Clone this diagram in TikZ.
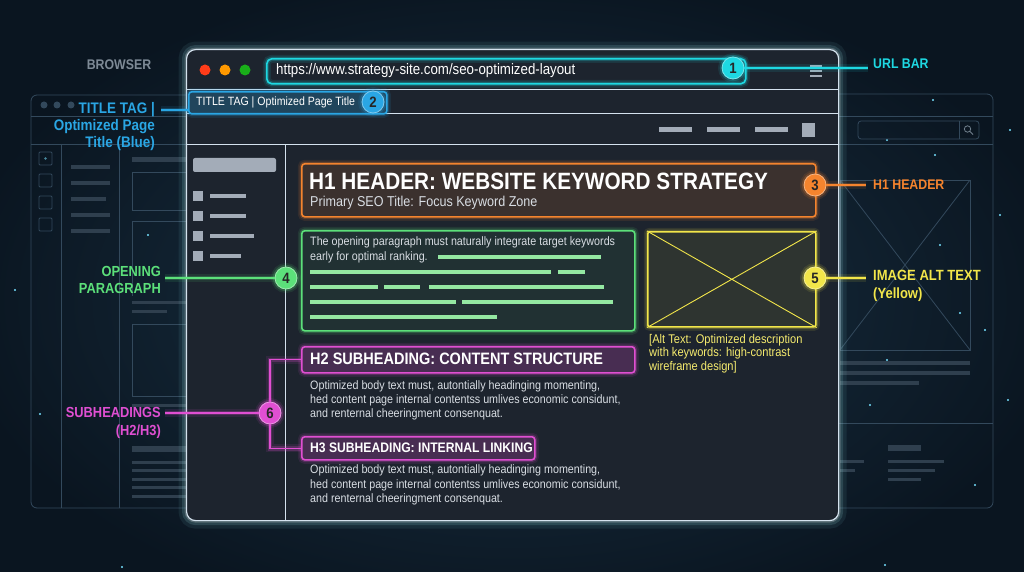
\documentclass[tikz,border=0pt]{standalone}
\usepackage{fontspec}
\setmainfont{Liberation Sans}[FakeStretch=0.88]
\usetikzlibrary{calc}
\definecolor{bgdark}{HTML}{0A1520}
\definecolor{bglight}{HTML}{1A3346}
\definecolor{winfill}{HTML}{1D242E}
\definecolor{winborder}{HTML}{D4E2EE}
\definecolor{ghost}{HTML}{33495C}
\definecolor{ghostbar}{HTML}{2F3F4E}
\definecolor{cyanc}{HTML}{1ED8E2}
\definecolor{bluec}{HTML}{2AA6E4}
\definecolor{orangec}{HTML}{F5842E}
\definecolor{greenc}{HTML}{5CE07A}
\definecolor{greenbar}{HTML}{94E8A2}
\definecolor{yellowc}{HTML}{F2E64A}
\definecolor{magc}{HTML}{E04FD2}
\definecolor{graybar}{HTML}{A3ACB8}
\definecolor{bodytext}{HTML}{D8DDE3}
\definecolor{labelgray}{HTML}{7E8A96}
\definecolor{star}{HTML}{6FD4F0}
\newcommand\fs[1]{\fontsize{#1}{#1}\selectfont}
\tikzset{
  glow/.style={preaction={draw=#1,draw opacity=.10,line width=8pt},
               preaction={draw=#1,draw opacity=.22,line width=4.5pt}},
  hbox/.style={draw=#1,line width=1.6pt,rounded corners=3pt,glow=#1,anchor=north west,inner sep=0pt},
  numc/.style={circle,fill=#1,draw=#1!60!white,line width=.8pt,minimum size=22pt,inner sep=0pt,
               font=\bfseries\fs{15},text=black!85,glow=#1},
  conn/.style={draw=#1,line width=1.3pt,glow=#1},
  lbl/.style={text=#1,font=\bfseries\fs{14},inner sep=0pt},
  sep/.style={draw=winborder,line width=1pt},
  gline/.style={draw=ghost,line width=.8pt},
  gbar/.style={line width=4pt,draw=ghostbar},
  hl/.style={line width=4pt,draw=greenbar},
  nbar/.style={line width=5pt,draw=graybar},
  body/.style={text=bodytext,font=\fs{12.2},anchor=west,inner sep=0pt},
  stardot/.style={fill=star,circle,inner sep=0pt,minimum size=2.2pt,
                  preaction={fill=star,fill opacity=.25,draw=none,circle,minimum size=6pt}},
}
\begin{document}
\begin{tikzpicture}[x=1pt,y=-1pt]
\useasboundingbox (0,0) rectangle (1024,572);
% background
\fill[bgdark] (0,0) rectangle (1024,572);
\shade[inner color=bglight,outer color=bgdark] (512,300) ellipse (560 and 330);
% stars
\foreach \p in {(40,414),(122,567),(1000,215),(1008,400),(933,100),(887,140),(935,155),(985,330),(960,313),(887,360),(975,485),(885,565),(870,405),(1010,130),(15,290),(148,235),(940,245)}
  \node[stardot] at \p {};
% ---------- left ghost browser
\draw[gline,rounded corners=6pt] (186,95) -- (31,95) -- (31,508) -- (186,508);
\foreach \x in {44,57,71} \fill[ghost] (\x,105) circle (3.5pt);
\draw[gline] (31,116) -- (186,116);
\draw[gline] (31,144) -- (186,144);
\draw[gline] (61,144) -- (61,508);
\draw[gline] (119,144) -- (119,508);
\foreach \y in {152,174,196,218} \draw[gline,rounded corners=1pt] (39,\y) rectangle (52,\y+13);
\fill[star,opacity=.6] (45.5,158.5) circle (1.3pt);
\foreach \y/\w in {167/110,183/110,199/106,215/110,231/110} \draw[gbar] (71,\y) -- (\w,\y);
\draw[gbar,line width=5pt] (132,160) -- (186,160);
\draw[gline] (186,172) -- (132,172) -- (132,210) -- (186,210);
\draw[gline] (186,221) -- (132,221) -- (132,296);
\draw[gbar,line width=3pt] (132,302) -- (186,302);
\draw[gbar,line width=3pt] (132,311) -- (167,311);
\draw[gline] (186,324) -- (132,324) -- (132,396) -- (186,396);
\draw[gbar,line width=3pt] (132,405) -- (186,405);
\draw[gbar,line width=6pt] (132,449) -- (186,449);
\foreach \y in {462,470,479,487,496} \draw[gbar,line width=3pt] (132,\y) -- (186,\y);
\node[text=labelgray,font=\bfseries\fs{14},inner sep=0pt] (browser) at (119,65) {BROWSER};
% ---------- right ghost browser
\draw[gline,rounded corners=6pt] (830,94) -- (993,94) -- (993,508) -- (830,508);
\draw[gline] (838,116) -- (993,116);
\draw[gline] (838,144) -- (993,144);
\draw[gline,rounded corners=3pt] (858,121) rectangle (979,139);
\draw[gline] (959,121) -- (959,139);
\draw[ghost!70!white,line width=.8pt] (967.5,129) circle (3.2pt) (969.8,131.3) -- (973,134.5);
\draw[gline] (840,180) rectangle (970,350);
\draw[gline] (840,180) -- (970,350) (970,180) -- (840,350);
\draw[gbar,line width=4pt] (840,363) -- (970,363);
\draw[gbar,line width=4pt] (840,373) -- (970,373);
\draw[gbar,line width=4pt] (840,383) -- (919,383);
\draw[gline] (838,423) -- (993,423);
\draw[gbar,line width=6pt] (888,448) -- (921,448);
\foreach \y/\w in {461/944,470/935,479/921} \draw[gbar,line width=3pt] (888,\y) -- (\w,\y);
\draw[gbar,line width=3pt] (840,461) -- (864,461);
\draw[gbar,line width=3pt] (840,470) -- (855,470);
% ---------- main window
\node[draw=winborder,fill=winfill,line width=1.2pt,rounded corners=9pt,anchor=north west,
      minimum width=652pt,minimum height=471pt,inner sep=0pt,
      preaction={draw=cyanc!50!white,draw opacity=.08,line width=16pt,rounded corners=9pt},
      preaction={draw=cyanc!40!white,draw opacity=.14,line width=9pt,rounded corners=9pt},
      preaction={draw=white,draw opacity=.20,line width=4pt,rounded corners=9pt}] (win) at (186,49) {};
\fill[red!70!orange!90!white] (205,70) circle (5.5pt);
\fill[orange!80!yellow] (225,70) circle (5.5pt);
\fill[green!65!black!90!white] (245,70) circle (5.5pt);
\draw[sep] (186,90) -- (838,90);
\draw[sep] (186,114) -- (838,114);
\draw[sep] (186,145) -- (838,145);
\draw[sep] (285,145) -- (285,520);
% hamburger
\foreach \y in {66,71,76} \draw[graybar,line width=1.2pt] (810,\y) -- (822,\y);
% nav bar
\draw[nbar] (659,130) -- (692,130);
\draw[nbar] (707,130) -- (740,130);
\draw[nbar] (755,130) -- (788,130);
\fill[graybar] (802,123) rectangle (815,137);
% sidebar
\fill[graybar,rounded corners=2pt] (193,158) rectangle (276,172);
\foreach \y/\w in {196/246,216/246,236/254,256/241}{
  \fill[graybar] (193,\y-5) rectangle (203,\y+5);
  \draw[graybar,line width=4pt] (210,\y) -- (\w,\y);}
% ---------- URL bar
\node[hbox=cyanc,minimum width=479pt,minimum height=25pt,rounded corners=5pt] (url) at (266,58) {};
\node[text=white,font=\fs{15.1},anchor=west,inner sep=0pt] (urltext) at (276,70.5) {https://www.strategy-site.com/seo-optimized-layout};
\node[numc=cyanc] (n1) at (733,68) {1};
\node[lbl=cyanc,anchor=west] (lurl) at (873,64) {URL BAR};
\coordinate (lurlend) at (868,68);
\draw[conn=cyanc] (n1.east) -- (lurlend);
% ---------- Title tab
\node[hbox=bluec,fill=bluec!25!winfill,minimum width=198pt,minimum height=22pt] (tab) at (188,91) {};
\node[text=white,font=\fs{12},anchor=west,inner sep=0pt] (tabtext) at (196,102) {TITLE TAG | Optimized Page Title};
\node[numc=bluec] (n2) at (373,102) {2};
\node[lbl=bluec,align=right,anchor=north east,font=\bfseries\fs{15.3}] (ltab) at (155,102) {TITLE TAG |\\[2pt]Optimized Page\\[2pt]Title (Blue)};
\coordinate (tabin) at (188,110);
\coordinate (ltabend) at (161,110);
\draw[conn=bluec] (ltabend) -- (tabin);
% ---------- H1
\node[hbox=orangec,fill=orangec!14!winfill,minimum width=514pt,minimum height=53pt] (h1) at (301,163) {};
\node[text=white,font=\bfseries\fs{23.6},anchor=west,inner sep=0pt] (h1t) at (309,181) {H1 HEADER: WEBSITE KEYWORD STRATEGY};
\node[text=bodytext,font=\fs{14.3},anchor=west,inner sep=0pt] (h1s) at (310,203) {Primary SEO Title: Focus Keyword Zone};
\node[numc=orangec] (n3) at (815,185) {3};
\node[lbl=orangec,anchor=west] (lh1) at (873,185) {H1 HEADER};
\coordinate (lh1end) at (866,185);
\draw[conn=orangec] (n3.east) -- (lh1end);
% ---------- Opening paragraph
\node[hbox=greenc,fill=greenc!7!winfill,minimum width=333pt,minimum height=100pt] (para) at (301,230) {};
\node[body] (p1) at (310,242) {The opening paragraph must naturally integrate target keywords};
\node[body] (p2) at (310,257) {early for optimal ranking.};
\draw[hl] (438,257) -- (601,257);
\draw[hl] (310,272) -- (551,272); \draw[hl] (558,272) -- (585,272);
\draw[hl] (310,287) -- (378,287); \draw[hl] (384,287) -- (420,287); \draw[hl] (429,287) -- (604,287);
\draw[hl] (310,302) -- (456,302); \draw[hl] (462,302) -- (613,302);
\draw[hl] (310,317) -- (497,317);
\node[numc=greenc] (n4) at (286,278) {4};
\node[lbl=greenc,align=right,anchor=east,font=\bfseries\fs{14.6}] (lpara) at (161,280) {OPENING\\[3pt]PARAGRAPH};
\coordinate (lp4) at (165,278);
\draw[conn=greenc] (lp4) -- (n4.west);
% ---------- Image
\node[hbox=yellowc,fill=yellowc!8!winfill,minimum width=168pt,minimum height=95pt,rounded corners=2pt] (img) at (647,231) {};
\draw[yellowc,line width=.9pt] (img.north west) -- (img.south east) (img.north east) -- (img.south west);
\node[numc=yellowc] (n5) at (815,278) {5};
\node[lbl=yellowc,align=left,anchor=west,font=\bfseries\fs{14.8}] (limg) at (873,286) {IMAGE ALT TEXT\\[3pt](Yellow)};
\coordinate (limgend) at (866,278);
\draw[conn=yellowc] (n5.east) -- (limgend);
\node[text=yellowc!80!white,font=\fs{12.6},align=left,anchor=north west,inner sep=0pt] (alt) at (649,334) {[Alt Text: Optimized description\\[1pt]with keywords: high-contrast\\[1pt]wireframe design]};
% ---------- H2 / H3
\node[hbox=magc,fill=magc!22!winfill,minimum width=333pt,minimum height=26pt] (h2) at (301,346) {};
\node[text=white,font=\bfseries\fs{16.5},anchor=west,inner sep=0pt] (h2t) at (310,359) {H2 SUBHEADING: CONTENT STRUCTURE};
\node[body] (b1) at (310,386) {Optimized body text must, autontially headinging momenting,};
\node[body] (b2) at (310,400) {hed content page internal contentss umlives economic considunt,};
\node[body] (b3) at (310,414) {and renternal cheeringment consenquat.};
\node[hbox=magc,fill=magc!22!winfill,minimum width=233pt,minimum height=23pt] (h3) at (301,436) {};
\node[text=white,font=\bfseries\fs{13.8},anchor=west,inner sep=0pt] (h3t) at (310,447.5) {H3 SUBHEADING: INTERNAL LINKING};
\node[body] (c1) at (310,470) {Optimized body text must, autontially headinging momenting,};
\node[body] (c2) at (310,485) {hed content page internal contentss umlives economic considunt,};
\node[body] (c3) at (310,499) {and renternal cheeringment consenquat.};
\node[numc=magc] (n6) at (270,413) {6};
\draw[conn=magc] (h2.west) -| (n6.north);
\draw[conn=magc] (n6.south) |- (h3.west);
\node[lbl=magc,align=right,anchor=east,font=\bfseries\fs{14.6}] (lsub) at (161,423) {SUBHEADINGS\\[3pt](H2/H3)};
\coordinate (ls6) at (165,413);
\draw[conn=magc] (ls6) -- (n6.west);
\end{tikzpicture}
\end{document}
